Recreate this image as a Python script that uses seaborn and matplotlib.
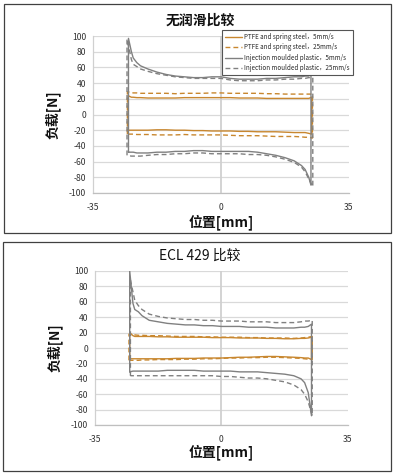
import numpy as np
import pandas as pd
import matplotlib
matplotlib.use("Agg")
import matplotlib.pyplot as plt
from matplotlib.patches import Rectangle
from matplotlib.ticker import MultipleLocator
import seaborn as sns

# ---------------- data ----------------
SERIES = ["PTFE and spring steel，5mm/s",
          "PTFE and spring steel，25mm/s",
          "Injection moulded plastic，5mm/s",
          "Injection moulded plastic，25mm/s"]

# common interior positions (mm) along a stroke
GRID = [-24.5, -24, -23, -22, -20, -17.5, -15, -12.5, -10, -7.5, -5, -2.5,
        0, 2.5, 5, 7.5, 10, 12.5, 15, 17.5, 20, 22, 23, 24]

# ---- chart 1: 无润滑比较 ----
# ends: [x_left, load_bottom_left, load_top_left, x_right, load_top_right, load_bottom_right]
NL_PTFE5_ENDS = [-25.4, -20, 24, 24.8, 22, -25]
NL_PTFE5_TOP = [22, 22, 21.5, 21.5, 21, 21, 21, 21, 21.5, 21.5, 21.5, 21.5,
                21.5, 21.5, 21, 21, 21, 20.5, 20.5, 20.5, 20.5, 20.5, 20.5, 20.5]
NL_PTFE5_BOT = [-20, -20, -20, -20, -20, -19.5, -19.5, -20, -20, -20.5, -20.5, -21,
                -21, -21, -21.5, -21.5, -22, -22, -22, -22.5, -23, -23, -23, -24]
NL_PTFE25_ENDS = [-25.6, -25, 29, 25.0, 26, -30]
NL_PTFE25_TOP = [28, 27.5, 27.5, 27, 27, 27, 27, 26.5, 27, 27, 27, 27.5,
                 27.5, 27, 27, 27, 27, 26.5, 26.5, 26, 26, 26, 26, 26]
NL_PTFE25_BOT = [-25, -25, -25.5, -25.5, -25.5, -26, -26, -26, -25.5, -26, -26, -26,
                 -26, -26.5, -27, -27, -27, -27.5, -28, -28, -28, -28.5, -29, -29]
NL_IMP5_ENDS = [-25.3, -48, 97, 24.6, 52, -90]
NL_IMP5_TOP = [80, 72, 66, 62, 58, 54, 51, 49, 48, 47, 47, 48,
               48, 46, 45, 45, 45, 46, 46, 47, 48, 48, 49, 49]
NL_IMP5_BOT = [-48, -48, -49, -49, -49, -48, -48, -47, -47, -46, -46, -47,
               -47, -47, -47, -47, -48, -50, -52, -55, -59, -65, -70, -80]
NL_IMP25_ENDS = [-25.7, -52, 96, 25.1, 47, -92]
NL_IMP25_TOP = [70, 64, 61, 58, 55, 52, 50, 48, 47, 46, 46, 46,
                46, 44, 43, 43, 43, 44, 44, 45, 45, 46, 46, 47]
NL_IMP25_BOT = [-53, -53, -53, -53, -52, -51, -51, -50, -50, -49, -49, -50,
                -50, -50, -50, -51, -51, -52, -54, -57, -61, -67, -73, -82]

# ---- chart 2: ECL 429 比较 ----
EC_PTFE5_ENDS = [-25.4, -14, 20, 24.9, 14, -15]
EC_PTFE5_TOP = [16, 15, 15, 15, 15, 14.5, 14.5, 14, 14, 14, 14, 13.5,
                13.5, 13.5, 13, 13, 13, 12.5, 12.5, 12, 12, 12.5, 12.5, 13]
EC_PTFE5_BOT = [-14, -14, -14, -14, -14, -14, -14, -13.5, -13.5, -13.5, -13, -13,
                -13, -12.5, -12, -12, -11.5, -11, -11, -11.5, -12, -12.5, -13, -13]
EC_PTFE25_ENDS = [-25.6, -16, 18, 25.1, 15, -15]
EC_PTFE25_TOP = [17, 17, 16.5, 16.5, 16, 16, 15.5, 15, 15, 15, 14.5, 14.5,
                 14, 14, 14, 13.5, 13.5, 13, 13, 13, 12.5, 13, 13.5, 14]
EC_PTFE25_BOT = [-16, -16, -16, -15.5, -15.5, -15, -15, -15, -14.5, -14.5, -14, -14,
                 -13.5, -13, -13, -12.5, -12.5, -12, -12, -12.5, -13, -13.5, -14, -14.5]
EC_IMP5_ENDS = [-25.4, -31, 100, 24.9, 31, -88]
EC_IMP5_TOP = [58, 50, 47, 42, 36, 34, 32, 31, 30, 30, 29, 29,
               28, 28, 28, 27, 27, 27, 26, 26, 26, 27, 27, 28]
EC_IMP5_BOT = [-30, -30, -30, -30, -30, -30, -29, -29, -29, -29, -30, -30,
               -30, -30, -31, -31, -31, -32, -33, -34, -36, -40, -45, -58]
EC_IMP25_ENDS = [-25.2, -36, 88, 25.1, 36, -88]
EC_IMP25_TOP = [73, 62, 55, 50, 44, 41, 39, 38, 37, 37, 36, 36,
                35, 35, 35, 34, 34, 34, 33, 33, 33, 34, 35, 35]
EC_IMP25_BOT = [-36, -36, -36, -36, -36, -36, -36, -36, -36, -36, -36, -36,
                -37, -37, -38, -39, -39, -40, -42, -44, -48, -54, -60, -70]

CHART_TITLES = ["无润滑比较", "ECL 429 比较"]
X_LABEL = "位置[mm]"
Y_LABEL = "负载[N]"
X_TICKS = [-35, 0, 35]
Y_TICKS = list(range(-100, 101, 20))


def loop(ends, top, bot):
    xl, bl, tl, xr, tr, br = ends
    xs = [xl, xl] + GRID + [xr, xr] + GRID[::-1] + [xl]
    ys = [bl, tl] + top + [tr, br] + bot[::-1] + [bl]
    return xs, ys


def frame(ends_top_bot_list):
    rows = []
    for name, (ends, top, bot) in zip(SERIES, ends_top_bot_list):
        xs, ys = loop(ends, top, bot)
        rows.append(pd.DataFrame({"pos": xs, "load": ys, "series": name}))
    return pd.concat(rows, ignore_index=True)


df1 = frame([(NL_PTFE5_ENDS, NL_PTFE5_TOP, NL_PTFE5_BOT),
             (NL_PTFE25_ENDS, NL_PTFE25_TOP, NL_PTFE25_BOT),
             (NL_IMP5_ENDS, NL_IMP5_TOP, NL_IMP5_BOT),
             (NL_IMP25_ENDS, NL_IMP25_TOP, NL_IMP25_BOT)])
df2 = frame([(EC_PTFE5_ENDS, EC_PTFE5_TOP, EC_PTFE5_BOT),
             (EC_PTFE25_ENDS, EC_PTFE25_TOP, EC_PTFE25_BOT),
             (EC_IMP5_ENDS, EC_IMP5_TOP, EC_IMP5_BOT),
             (EC_IMP25_ENDS, EC_IMP25_TOP, EC_IMP25_BOT)])

# ---------------- style ----------------
sns.set_style("white")
plt.rcParams['font.family'] = ['Noto Sans CJK SC', 'DejaVu Sans']

ORANGE = "#C8872F"
GRAY = "#808080"
palette = {SERIES[0]: ORANGE, SERIES[1]: ORANGE, SERIES[2]: GRAY, SERIES[3]: GRAY}
dashes = {SERIES[0]: "", SERIES[1]: (3.5, 2.2), SERIES[2]: "", SERIES[3]: (3.5, 2.2)}

W, H = 396, 476
fig = plt.figure(figsize=(W / 100, H / 100), dpi=100)


def fx(px):
    return px / W


def fy(py):
    return 1 - py / H


# panel frames
for (x0, y0, x1, y1) in [(4, 4, 391, 233), (3, 242, 391, 471)]:
    fig.patches.append(Rectangle((fx(x0), fy(y1)), fx(x1 - x0), (y1 - y0) / H,
                                 transform=fig.transFigure, fill=False,
                                 edgecolor="#404040", linewidth=0.9))

axes_boxes = [(93, 36, 349, 193), (95, 271, 348, 425)]
title_y = [21, 256]
xlabel_y = [222, 452]
ylabel_x = [53, 55]

for i, (df, (l, t, r, b)) in enumerate(zip([df1, df2], axes_boxes)):
    ax = fig.add_axes([fx(l), fy(b), fx(r - l), (b - t) / H])
    sns.lineplot(data=df, x="pos", y="load", hue="series", style="series",
                 palette=palette, dashes=dashes, sort=False, estimator=None,
                 linewidth=1.0, ax=ax, legend=(i == 0))
    ax.set_xlim(-35, 35)
    ax.set_ylim(-100, 100)
    ax.set_xticks(X_TICKS)
    ax.set_xticklabels([str(v) for v in X_TICKS])
    ax.xaxis.set_minor_locator(MultipleLocator(7))
    ax.set_yticks(Y_TICKS)
    ax.set_yticklabels([str(v) for v in Y_TICKS])
    ax.tick_params(axis="y", length=0, pad=5, labelsize=6.2, labelcolor="#333333")
    ax.tick_params(axis="x", which="both", length=3, width=0.7, color="#BFBFBF",
                   pad=4, labelsize=6.2, labelcolor="#333333", direction="out")
    for y in Y_TICKS:
        ax.axhline(y, color="#D9D9D9", linewidth=0.9, zorder=0)
    ax.axvline(0, color="#D0D0D0", linewidth=1.3, zorder=0)
    for s in ["top", "right"]:
        ax.spines[s].set_visible(False)
    ax.spines["left"].set_color("#D0D0D0")
    ax.spines["left"].set_linewidth(0.9)
    ax.spines["bottom"].set_color("#BFBFBF")
    ax.spines["bottom"].set_linewidth(0.9)
    ax.set_xlabel("")
    ax.set_ylabel("")
    if i == 0:
        sns.move_legend(ax, "upper left", bbox_to_anchor=(0.504, 1.04), title=None,
                        fontsize=4.5, frameon=True, fancybox=False,
                        edgecolor="#555555", framealpha=1, borderpad=0.5,
                        labelspacing=0.4, handlelength=2.7, handletextpad=0.35,
                        borderaxespad=0)
        leg = ax.get_legend()
        leg.get_frame().set_linewidth(0.8)
        for line in leg.get_lines():
            line.set_linewidth(1.0)

    fig.text(fx(200), fy(title_y[i]), CHART_TITLES[i], ha="center", va="center",
             fontsize=10, fontweight=("bold" if i == 0 else "normal"), color="#111111")
    fig.text(fx((l + r) / 2), fy(xlabel_y[i]), X_LABEL, ha="center", va="center",
             fontsize=10, fontweight="bold", color="#111111")
    fig.text(fx(ylabel_x[i]), fy((t + b) / 2), Y_LABEL, ha="center", va="center",
             rotation=90, fontsize=10, fontweight="bold", color="#111111")

fig.savefig("out.png", dpi=100)
